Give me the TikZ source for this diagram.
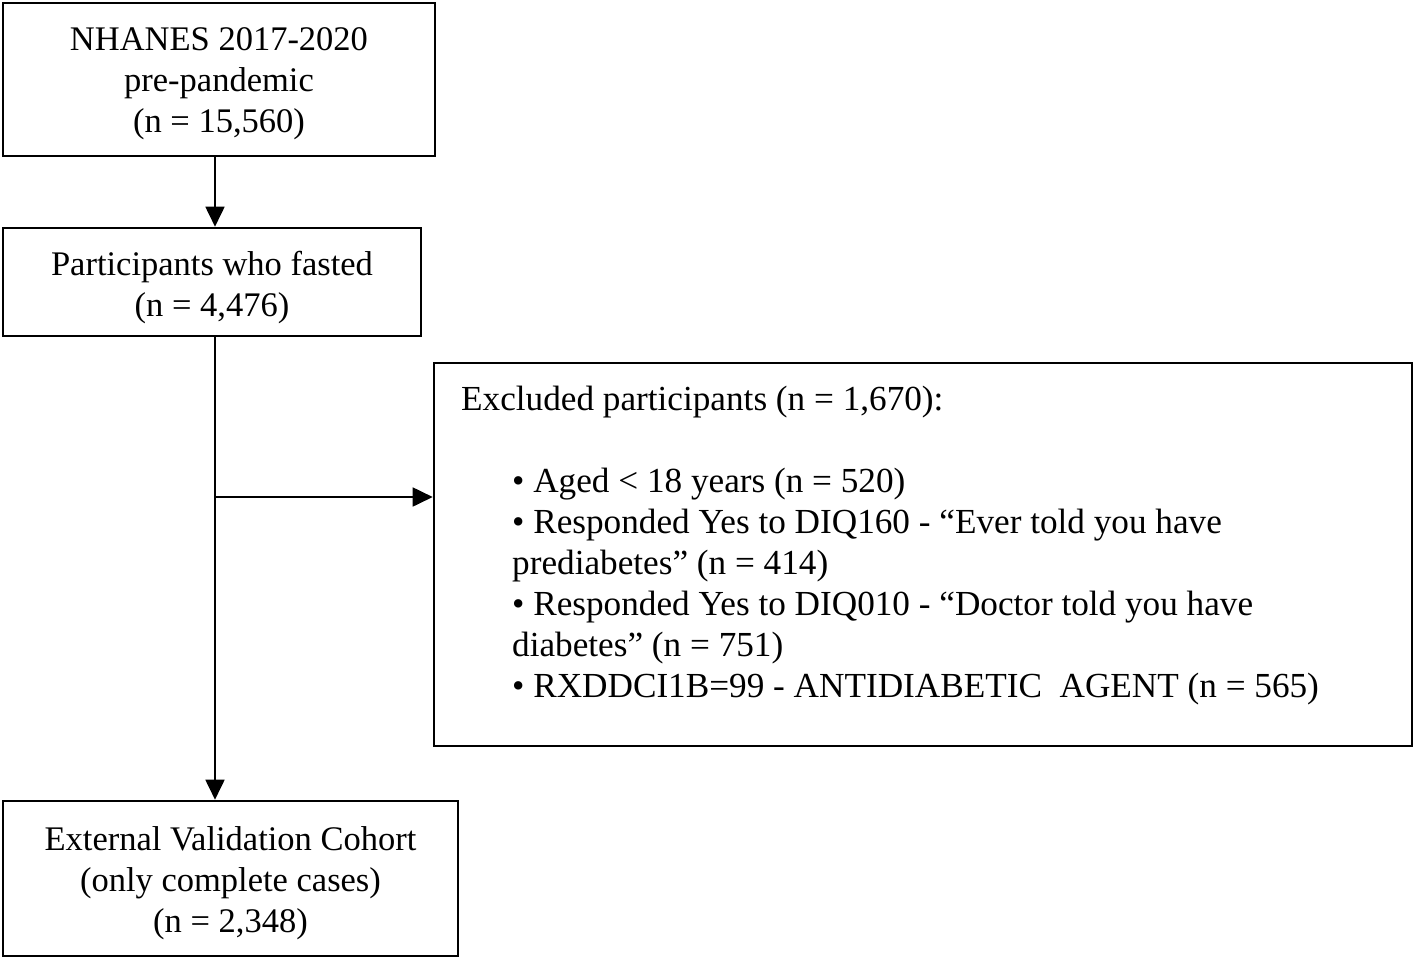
\documentclass[tikz,border=0pt]{standalone}
\usepackage{fontspec}
\setmainfont{Liberation Serif}
\usetikzlibrary{arrows.meta}
\begin{document}
\begin{tikzpicture}[x=1pt,y=-1pt,
  box/.style={draw=black,line width=2.6pt,rectangle,inner sep=0pt},
  txt/.style={inner sep=0pt,align=center,font=\fontsize{34.5}{41}\selectfont},
  arr/.style={draw=black,line width=1.8pt,-{Triangle[length=20pt,width=19pt]}}]
\useasboundingbox (0,0) rectangle (1416,961);
\node[box,minimum width=432pt,minimum height=153pt] (box1) at (219,79.5) {};
\node[txt] (box1t) at (219,83.5) {NHANES 2017-2020\\pre-pandemic\\(n = 15,560)};
\node[box,minimum width=418pt,minimum height=108pt] (box2) at (212,282) {};
\node[txt] (box2t) at (212,288) {Participants who fasted\\(n = 4,476)};
\node[box,minimum width=455pt,minimum height=155pt] (box4) at (230.5,878.5) {};
\node[txt] (box4t) at (230.5,883.5) {External Validation Cohort\\(only complete cases)\\(n = 2,348)};
\node[box,minimum width=978pt,minimum height=383pt] (excl) at (923,554.5) {};
\node[anchor=north west,inner sep=0pt,align=left,
  font=\fontsize{35.2}{41}\selectfont] (excltxt) at (461,386)
  {Excluded participants (n = 1,670):\\[41pt]
   \hspace*{51pt}• Aged < 18 years (n = 520)\\
   \hspace*{51pt}• Responded Yes to DIQ160 - “Ever told you have\\
   \hspace*{51pt}prediabetes” (n = 414)\\
   \hspace*{51pt}• Responded Yes to DIQ010 - “Doctor told you have\\
   \hspace*{51pt}diabetes” (n = 751)\\
   \hspace*{51pt}• RXDDCI1B=99 - ANTIDIABETIC\ \ AGENT (n = 565)};
\coordinate (sx) at (215,497);
\draw[arr] (box1.south -| sx) -- (box2.north -| sx);
\draw[arr] (box2.south -| sx) -- (box4.north -| sx);
\draw[arr] (sx) -- (excl.west |- sx);
\end{tikzpicture}
\end{document}
